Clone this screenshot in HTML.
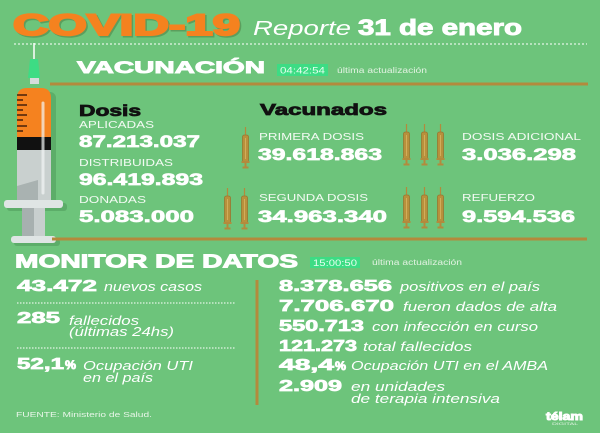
<!DOCTYPE html>
<html><head><meta charset="utf-8"><style>
html,body{margin:0;padding:0;background:#6dc47b;}
svg{display:block;}
text{font-family:"Liberation Sans",sans-serif;}
.b{font-weight:bold;fill:#fff;stroke:#fff;stroke-width:0.9;}
.l{fill:#f2faf2;font-size:10px;}
.n{font-weight:bold;fill:#fff;font-size:17px;stroke:#fff;stroke-width:0.7;}
.i{font-style:italic;fill:#fff;font-size:13px;}
.m{font-weight:bold;fill:#fff;font-size:15.5px;stroke:#fff;stroke-width:0.7;}
</style></head><body>
<svg width="600" height="433" viewBox="0 0 600 433" xmlns="http://www.w3.org/2000/svg">
<defs>
<g id="sy">
<line x1="3.5" y1="0" x2="3.5" y2="9" stroke="#b38a3c" stroke-width="1.2"/>
<rect x="0.5" y="8" width="6" height="27" rx="2" fill="#b8903c" stroke="#9a7530" stroke-width="0.8"/>
<line x1="3.5" y1="11" x2="3.5" y2="32" stroke="#d2ad5a" stroke-width="1"/>
<rect x="-0.5" y="34" width="8" height="2" fill="#b38a3c"/>
<rect x="2.5" y="36" width="2" height="4" fill="#b38a3c"/>
<rect x="0.5" y="39.5" width="6" height="2" fill="#b38a3c"/>
</g>
</defs>
<rect width="600" height="433" fill="#6dc47b"/>

<!-- Title -->
<text x="14.5" y="36.5" font-size="30" font-weight="bold" fill="#4c7a40" stroke="#4c7a40" stroke-width="2" opacity="0.5" textLength="227" lengthAdjust="spacingAndGlyphs">COVID-19</text>
<text x="13" y="35" font-size="30" font-weight="bold" fill="#f5821f" stroke="#f5821f" stroke-width="2" textLength="227" lengthAdjust="spacingAndGlyphs">COVID-19</text>
<text x="253" y="35" font-size="20" font-style="italic" fill="#fff" textLength="98" lengthAdjust="spacingAndGlyphs">Reporte</text>
<text x="358" y="35" font-size="22" class="b" textLength="164" lengthAdjust="spacingAndGlyphs">31 de enero</text>
<line x1="14" y1="44" x2="587" y2="44" stroke="#fff" stroke-width="1" stroke-dasharray="2,2"/>

<!-- Syringe shadow -->
<g opacity="0.25" fill="#2d6a35">
<rect x="20" y="92" width="36" height="118" rx="6"/>
<rect x="7" y="203" width="60" height="8" rx="3"/>
<rect x="14" y="239" width="46" height="7" rx="3"/>
</g>
<!-- Syringe -->
<line x1="34" y1="43" x2="34" y2="60" stroke="#fff" stroke-width="1.5"/>
<polygon points="30,59 38,59 40,78 28,78" fill="#3ddc84"/>
<rect x="30" y="78" width="9" height="6" fill="#d6dcdc"/>
<path d="M17,137 L17,98 Q17,88 27,88 L41,88 Q51,88 51,98 L51,137 Z" fill="#f5821f"/>
<g stroke="#3a1a0a" stroke-width="1.4">
<line x1="17" y1="95" x2="27" y2="95"/>
<line x1="17" y1="100" x2="23" y2="100"/>
<line x1="17" y1="105" x2="27" y2="105"/>
<line x1="17" y1="110" x2="23" y2="110"/>
<line x1="17" y1="115" x2="27" y2="115"/>
<line x1="17" y1="120" x2="23" y2="120"/>
<line x1="17" y1="126" x2="27" y2="126"/>
<line x1="17" y1="131" x2="23" y2="131"/>
</g>
<rect x="17" y="137" width="34" height="13" fill="#111"/>
<rect x="17" y="150" width="34" height="55" fill="#c9d0cf"/>
<polygon points="17,186 38,180 38,205 17,205" fill="#a9b2b1"/>
<line x1="43" y1="103" x2="43" y2="193" stroke="#f3f6f6" stroke-width="3" opacity="0.7" stroke-linecap="round"/>
<rect x="4" y="200" width="59" height="8" rx="3" fill="#dfe5e4"/>
<rect x="22" y="208" width="12" height="30" fill="#a7b0af"/>
<rect x="34" y="208" width="11" height="30" fill="#c8cfce"/>
<rect x="11" y="236" width="45" height="7" rx="3" fill="#dfe5e4"/>

<!-- VACUNACION -->
<text x="77" y="73" font-size="17" class="b" textLength="188" lengthAdjust="spacingAndGlyphs">VACUNACIÓN</text>
<rect x="277" y="64" width="51" height="12" fill="#3ddc84"/>
<text x="280" y="73.5" font-size="9" fill="#e6fff0" textLength="45" lengthAdjust="spacingAndGlyphs">04:42:54</text>
<text x="337" y="73" font-size="8" fill="#e2f2e2" textLength="90" lengthAdjust="spacingAndGlyphs">última actualización</text>
<line x1="50" y1="84" x2="588" y2="84" stroke="#b38a3c" stroke-width="3"/>

<text x="79" y="116" font-size="16" font-weight="bold" fill="#111" stroke="#111" stroke-width="0.8" textLength="62" lengthAdjust="spacingAndGlyphs">Dosis</text>
<text x="260" y="115" font-size="16" font-weight="bold" fill="#111" stroke="#111" stroke-width="0.8" textLength="127" lengthAdjust="spacingAndGlyphs">Vacunados</text>

<text x="79" y="128" class="l" textLength="75" lengthAdjust="spacingAndGlyphs">APLICADAS</text>
<text x="79" y="147" class="n" textLength="121" lengthAdjust="spacingAndGlyphs">87.213.037</text>
<text x="79" y="166" class="l" textLength="94" lengthAdjust="spacingAndGlyphs">DISTRIBUIDAS</text>
<text x="79" y="185" class="n" textLength="124" lengthAdjust="spacingAndGlyphs">96.419.893</text>
<text x="79" y="203" class="l" textLength="67" lengthAdjust="spacingAndGlyphs">DONADAS</text>
<text x="79" y="222" class="n" textLength="115" lengthAdjust="spacingAndGlyphs">5.083.000</text>

<text x="259" y="140" class="l" textLength="105" lengthAdjust="spacingAndGlyphs">PRIMERA DOSIS</text>
<text x="258" y="160" class="n" textLength="124" lengthAdjust="spacingAndGlyphs">39.618.863</text>
<text x="462" y="140" class="l" textLength="119" lengthAdjust="spacingAndGlyphs">DOSIS ADICIONAL</text>
<text x="462" y="160" class="n" textLength="114" lengthAdjust="spacingAndGlyphs">3.036.298</text>
<text x="259" y="201" class="l" textLength="109" lengthAdjust="spacingAndGlyphs">SEGUNDA DOSIS</text>
<text x="258" y="222" class="n" textLength="129" lengthAdjust="spacingAndGlyphs">34.963.340</text>
<text x="462" y="201" class="l" textLength="73" lengthAdjust="spacingAndGlyphs">REFUERZO</text>
<text x="462" y="222" class="n" textLength="113" lengthAdjust="spacingAndGlyphs">9.594.536</text>

<use href="#sy" x="242" y="127"/>
<use href="#sy" x="224" y="188"/>
<use href="#sy" x="241" y="188"/>
<use href="#sy" x="403" y="124"/>
<use href="#sy" x="421" y="124"/>
<use href="#sy" x="437" y="124"/>
<use href="#sy" x="403" y="187"/>
<use href="#sy" x="421" y="187"/>
<use href="#sy" x="437" y="187"/>

<line x1="52" y1="239" x2="587" y2="239" stroke="#b38a3c" stroke-width="3"/>

<!-- MONITOR -->
<text x="15" y="267.5" font-size="18" class="b" textLength="283" lengthAdjust="spacingAndGlyphs">MONITOR DE DATOS</text>
<rect x="310" y="257" width="50" height="11" fill="#3ddc84"/>
<text x="313" y="266" font-size="9" fill="#e6fff0" textLength="44" lengthAdjust="spacingAndGlyphs">15:00:50</text>
<text x="372" y="265" font-size="8" fill="#e2f2e2" textLength="90" lengthAdjust="spacingAndGlyphs">última actualización</text>

<text x="17" y="291" class="m" textLength="80" lengthAdjust="spacingAndGlyphs">43.472</text>
<text x="104" y="291" class="i" textLength="98" lengthAdjust="spacingAndGlyphs">nuevos casos</text>
<line x1="17" y1="303" x2="235" y2="303" stroke="#fff" stroke-width="1" stroke-dasharray="1.5,1.5"/>
<text x="17" y="323" class="m" textLength="43" lengthAdjust="spacingAndGlyphs">285</text>
<text x="69" y="325" class="i" textLength="70" lengthAdjust="spacingAndGlyphs">fallecidos</text>
<text x="69" y="336" class="i" textLength="105" lengthAdjust="spacingAndGlyphs">(últimas 24hs)</text>
<line x1="17" y1="348" x2="235" y2="348" stroke="#fff" stroke-width="1" stroke-dasharray="1.5,1.5"/>
<text x="17" y="369" class="m" textLength="47" lengthAdjust="spacingAndGlyphs">52,1</text>
<text x="65" y="369" font-size="12" class="b" textLength="11" lengthAdjust="spacingAndGlyphs">%</text>
<text x="83" y="370" class="i" textLength="110" lengthAdjust="spacingAndGlyphs">Ocupación UTI</text>
<text x="83" y="382" class="i" textLength="70" lengthAdjust="spacingAndGlyphs">en el país</text>
<text x="16" y="417" font-size="7.5" fill="#e8f5e8" textLength="136" lengthAdjust="spacingAndGlyphs">FUENTE: Ministerio de Salud.</text>

<line x1="257" y1="280" x2="257" y2="405" stroke="#b38a3c" stroke-width="3"/>

<text x="279" y="291" class="m" textLength="113" lengthAdjust="spacingAndGlyphs">8.378.656</text>
<text x="400" y="291" class="i" textLength="140" lengthAdjust="spacingAndGlyphs">positivos en el país</text>
<text x="279" y="311" class="m" textLength="115" lengthAdjust="spacingAndGlyphs">7.706.670</text>
<text x="403" y="311" class="i" textLength="154" lengthAdjust="spacingAndGlyphs">fueron dados de alta</text>
<text x="279" y="331" class="m" textLength="85" lengthAdjust="spacingAndGlyphs">550.713</text>
<text x="372" y="331" class="i" textLength="166" lengthAdjust="spacingAndGlyphs">con infección en curso</text>
<text x="279" y="351" class="m" textLength="78" lengthAdjust="spacingAndGlyphs">121.273</text>
<text x="363" y="351" class="i" textLength="109" lengthAdjust="spacingAndGlyphs">total fallecidos</text>
<text x="279" y="370" class="m" textLength="55" lengthAdjust="spacingAndGlyphs">48,4</text>
<text x="335" y="370" font-size="12" class="b" textLength="11" lengthAdjust="spacingAndGlyphs">%</text>
<text x="351" y="370" class="i" textLength="197" lengthAdjust="spacingAndGlyphs">Ocupación UTI en el AMBA</text>
<text x="279" y="391" class="m" textLength="63" lengthAdjust="spacingAndGlyphs">2.909</text>
<text x="351" y="391" class="i" textLength="94" lengthAdjust="spacingAndGlyphs">en unidades</text>
<text x="351" y="403" class="i" textLength="149" lengthAdjust="spacingAndGlyphs">de terapia intensiva</text>

<text x="546" y="420" font-size="11" class="b" textLength="37" lengthAdjust="spacingAndGlyphs">télam</text>
<text x="552" y="425" font-size="3.5" fill="#e8f5e8" textLength="26" lengthAdjust="spacingAndGlyphs">DIGITAL</text>
</svg>
</body></html>
